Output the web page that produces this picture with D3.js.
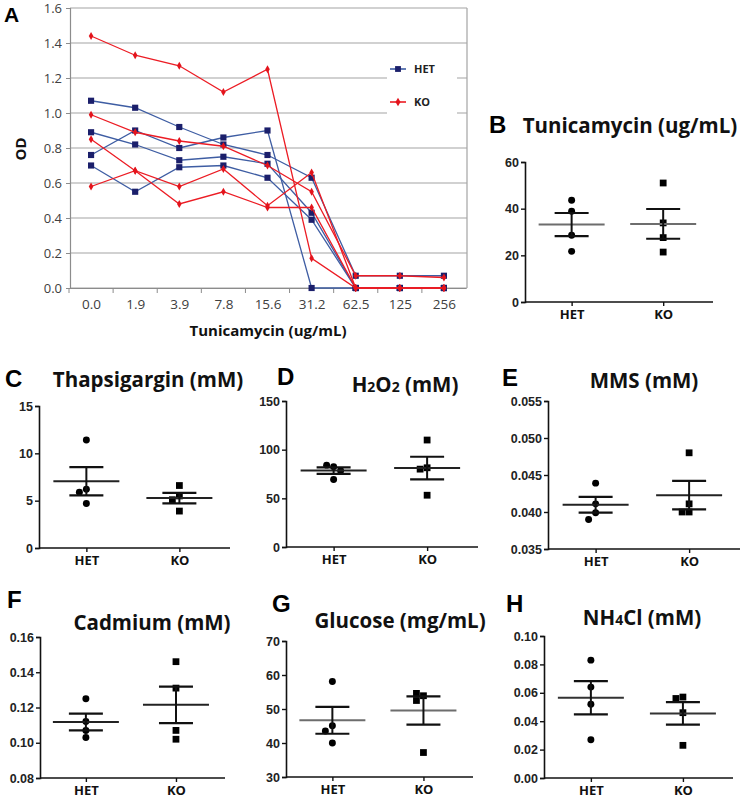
<!DOCTYPE html>
<html>
<head>
<meta charset="utf-8">
<script src="https://cdn.jsdelivr.net/npm/d3@7"></script>
<style>
  body { margin: 0; background: #fff; }
  svg { display: block; font-family: "Open Sans", sans-serif; }
</style>
</head>
<body>
<svg id="fig" width="745" height="799"></svg>
<script>

// ---------- panel A : OD against tunicamycin dose ----------
var doses  = ["0.0", "1.9", "3.9", "7.8", "15.6", "31.2", "62.5", "125", "256"];
var odTicks = [0, 0.2, 0.4, 0.6, 0.8, 1.0, 1.2, 1.4, 1.6];

var het1 = [1.07, 1.03, 0.92, 0.82, 0.76, 0.63, 0.07, 0.07, 0.07];
var het2 = [0.76, 0.90, 0.80, 0.86, 0.90, 0.00, 0.00, 0.00, 0.00];
var het3 = [0.89, 0.82, 0.73, 0.75, 0.71, 0.43, 0.00, 0.00, 0.00];
var het4 = [0.70, 0.55, 0.69, 0.70, 0.63, 0.39, 0.00, 0.00, 0.00];

var ko1 = [1.44, 1.33, 1.27, 1.12, 1.25, 0.17, 0.00, 0.00, 0.00];
var ko2 = [0.99, 0.89, 0.84, 0.81, 0.70, 0.55, 0.07, 0.07, 0.06];
var ko3 = [0.85, 0.67, 0.48, 0.55, 0.46, 0.46, 0.00, 0.00, 0.00];
var ko4 = [0.58, 0.67, 0.58, 0.68, 0.47, 0.66, 0.00, 0.00, 0.00];

// ---------- panels B-H : one value per clone ----------
var groups = ["HET", "KO"];

var tunHet  = [43.6, 38.9, 28.6, 21.7],         tunKo  = [51.0, 33.9, 27.6, 21.4];
var tunTicks = [0, 20, 40, 60];
var thapHet = [11.4, 6.2, 5.9, 4.7],            thapKo = [6.6, 5.5, 5.1, 3.9];
var thapTicks = [0, 5, 10, 15];
var h2o2Het = [82.4, 84.1, 78.3, 69.3],         h2o2Ko = [109.9, 81.4, 80.0, 53.2];
var h2o2Ticks = [0, 50, 100, 150];
var mmsHet  = [0.0439, 0.0411, 0.0399, 0.0390], mmsKo  = [0.0480, 0.0411, 0.0400, 0.0400];
var mmsTicks = [0.035, 0.040, 0.045, 0.050, 0.055];
var cdHet   = [0.125, 0.112, 0.107, 0.103],     cdKo   = [0.146, 0.131, 0.107, 0.102];
var cdTicks = [0.08, 0.10, 0.12, 0.14, 0.16];
var gluHet  = [58.1, 45.1, 43.5, 40.0],         gluKo  = [53.9, 54.6, 52.5, 37.2];
var gluTicks = [30, 40, 50, 60, 70];
var nhHet   = [0.083, 0.064, 0.052, 0.027],     nhKo   = [0.057, 0.056, 0.046, 0.023];
var nhTicks = [0, 0.02, 0.04, 0.06, 0.08, 0.10];


var svg = d3.select("#fig");
svg.append("rect").attr("width", 745).attr("height", 799).attr("fill", "#fff");

// ================= panel A =================
var blueLine = "#3e5da3", blueMark = "#1b1f6b";
var redLine  = "#ec1c24", redMark  = "#e3141c";

var ax = d3.scalePoint().domain(doses).range([69, 466]).padding(0.5);
var ay = d3.scaleLinear().domain([0, 1.6]).range([288, 8]);

var gA = svg.append("g");

// gridlines
gA.selectAll("line.grid").data(odTicks).join("line")
	.attr("class", "grid")
	.attr("x1", 70).attr("x2", 467)
	.attr("y1", d => ay(d)).attr("y2", d => ay(d))
	.attr("stroke", "#a3a3a3").attr("stroke-width", 1.2);

// right border of plot area
gA.append("line")
	.attr("x1", 467).attr("x2", 467).attr("y1", ay(1.6)).attr("y2", ay(0))
	.attr("stroke", "#a3a3a3").attr("stroke-width", 1.2);

// y axis
var yAxA = gA.append("g").attr("transform", "translate(70,0)")
	.call(d3.axisLeft(ay).tickValues(odTicks).tickSize(4).tickPadding(4).tickFormat(d3.format(".1f")));
yAxA.select(".domain").attr("stroke", "#8c8c8c").attr("stroke-width", 1.2);
yAxA.selectAll(".tick line").attr("stroke", "#8c8c8c");
yAxA.selectAll("text").attr("font-family", "Open Sans").attr("font-size", 13).attr("fill", "#404040");

// x axis, ticks sit between categories
var xAxA = gA.append("g").attr("transform", "translate(0,288)")
	.call(d3.axisBottom(ax).tickSize(0).tickPadding(11));
xAxA.select(".domain").attr("stroke", "#8c8c8c").attr("stroke-width", 1.2);
xAxA.selectAll("text").attr("font-family", "Open Sans").attr("font-size", 13.5).attr("fill", "#404040");
gA.selectAll("line.xtick").data(doses).join("line")
	.attr("class", "xtick")
	.attr("x1", d => ax(d) - ax.step() / 2).attr("x2", d => ax(d) - ax.step() / 2)
	.attr("y1", 288).attr("y2", 293)
	.attr("stroke", "#8c8c8c");

var line = d3.line().x((d, i) => ax(doses[i])).y(d => ay(d));

function drawSeries(arr, lc, mc, shape) {
	arr.forEach(function(s) {
		gA.append("path").datum(s)
			.attr("d", line).attr("fill", "none")
			.attr("stroke", lc).attr("stroke-width", 1.3);
	});
	arr.forEach(function(s) {
		gA.selectAll(null).data(s).join("path")
			.attr("transform", (d, i) => "translate(" + ax(doses[i]) + "," + ay(d) + ")")
			.attr("d", d3.symbol().type(shape).size(shape === d3.symbolSquare ? 38 : 18))
			.attr("fill", mc);
	});
}
drawSeries([het1, het2, het3, het4], blueLine, blueMark, d3.symbolSquare);
drawSeries([ko1, ko2, ko3, ko4], redLine, redMark, d3.symbolDiamond);

// legend (white box knocks out the gridlines)
gA.append("rect").attr("x", 387).attr("y", 54).attr("width", 70).attr("height", 66).attr("fill", "#fff");
[["HET", blueLine, blueMark, d3.symbolSquare, 69], ["KO", redLine, redMark, d3.symbolDiamond, 102]].forEach(function(l) {
	gA.append("line").attr("x1", 390).attr("x2", 406).attr("y1", l[4]).attr("y2", l[4])
		.attr("stroke", l[1]).attr("stroke-width", 1.6);
	gA.append("path").attr("transform", "translate(398," + l[4] + ")")
		.attr("d", d3.symbol().type(l[3]).size(l[3] === d3.symbolSquare ? 34 : 22)).attr("fill", l[2]);
	gA.append("text").attr("x", 414).attr("y", l[4] + 4)
		.attr("font-family", "Open Sans").attr("font-weight", 700).attr("font-size", 11)
		.attr("fill", "#222").text(l[0]);
});

// titles
gA.append("text").attr("x", 268).attr("y", 336).attr("text-anchor", "middle")
	.attr("font-family", "Open Sans").attr("font-weight", 700).attr("font-size", 15)
	.attr("fill", "#111").text("Tunicamycin (ug/mL)");
gA.append("text").attr("transform", "translate(26,149) rotate(-90)").attr("text-anchor", "middle")
	.attr("font-family", "Open Sans").attr("font-weight", 700).attr("font-size", 15)
	.attr("fill", "#111").text("OD");
gA.append("text").attr("x", 4).attr("y", 22)
	.attr("font-family", "Liberation Sans").attr("font-weight", 700).attr("font-size", 21)
	.attr("fill", "#000").text("A");

// ================= panels B-H =================
var panels = [
	{ tag: "B", title: [["Tunicamycin (ug/mL)"]], het: tunHet, ko: tunKo, ticks: tunTicks, fmt: "d",
	  x0: 525, x1: 713, yT: 162, yB: 302, lx: 489, ly: 133, tx: 630, ty: 133, meanCol: "#6d6d6d" },
	{ tag: "C", title: [["Thapsigargin (mM)"]], het: thapHet, ko: thapKo, ticks: thapTicks, fmt: "d",
	  x0: 39, x1: 230, yT: 406, yB: 548, lx: 5, ly: 387, tx: 148, ty: 387, meanCol: "#222" },
	{ tag: "D", title: [["H"], ["2", 1], ["O"], ["2", 1], [" (mM)"]], het: h2o2Het, ko: h2o2Ko, ticks: h2o2Ticks, fmt: "d",
	  x0: 286, x1: 478, yT: 401, yB: 547, lx: 277, ly: 385, tx: 405, ty: 392, meanCol: "#222" },
	{ tag: "E", title: [["MMS (mM)"]], het: mmsHet, ko: mmsKo, ticks: mmsTicks, fmt: ".3f",
	  x0: 548, x1: 740, yT: 401, yB: 549, lx: 502, ly: 386, tx: 644, ty: 388, meanCol: "#222" },
	{ tag: "F", title: [["Cadmium (mM)"]], het: cdHet, ko: cdKo, ticks: cdTicks, fmt: ".2f",
	  x0: 40, x1: 225, yT: 637, yB: 778, lx: 7, ly: 608, tx: 152, ty: 630, meanCol: "#222" },
	{ tag: "G", title: [["Glucose (mg/mL)"]], het: gluHet, ko: gluKo, ticks: gluTicks, fmt: "d",
	  x0: 286, x1: 473, yT: 641, yB: 777, lx: 272, ly: 612, tx: 400, ty: 628, meanCol: "#6d6d6d" },
	{ tag: "H", title: [["NH"], ["4", 1], ["Cl (mM)"]], het: nhHet, ko: nhKo, ticks: nhTicks, fmt: ".2f",
	  x0: 544, x1: 733, yT: 636, yB: 778, lx: 506, ly: 612, tx: 642, ty: 625, meanCol: "#333" }
];

panels.forEach(function(p) {
	var g = svg.append("g");
	var w = p.x1 - p.x0;
	var x = d3.scalePoint().domain(groups).range([p.x0 + 0.248 * w, p.x0 + 0.735 * w]);
	var y = d3.scaleLinear().domain(d3.extent(p.ticks)).range([p.yB, p.yT]);

	// panel letter + title
	g.append("text").attr("x", p.lx).attr("y", p.ly)
		.attr("font-family", "Liberation Sans").attr("font-weight", 700).attr("font-size", 24)
		.attr("fill", "#000").text(p.tag);
	var t = g.append("text").attr("x", p.tx).attr("y", p.ty).attr("text-anchor", "middle")
		.attr("font-family", "Open Sans").attr("font-weight", 700).attr("font-size", 20.5).attr("fill", "#111");
	p.title.forEach(function(part) {
		t.append("tspan").attr("font-size", part[1] ? 14 : 20.5).text(part[0]);
	});

	// axes
	var ya = g.append("g").attr("transform", "translate(" + p.x0 + ",0)")
		.call(d3.axisLeft(y).tickValues(p.ticks).tickSize(4).tickPadding(2).tickFormat(d3.format(p.fmt)));
	var xa = g.append("g").attr("transform", "translate(0," + p.yB + ")")
		.call(d3.axisBottom(x).tickSize(4).tickPadding(4));
	xa.select(".domain").attr("d", "M" + p.x0 + ",0H" + p.x1);
	[ya, xa].forEach(function(a) {
		a.select(".domain").attr("stroke", "#111").attr("stroke-width", 1.6);
		a.selectAll(".tick line").attr("stroke", "#111").attr("stroke-width", 1.4);
	});
	ya.selectAll("text").attr("font-family", "Liberation Sans").attr("font-weight", 700)
		.attr("font-size", 12.5).attr("fill", "#222");
	xa.selectAll("text").attr("font-family", "Open Sans").attr("font-weight", 700)
		.attr("font-size", 13).attr("fill", "#111");

	[["HET", p.het], ["KO", p.ko]].forEach(function(gr) {
		var cx = x(gr[0]), vals = gr[1];
		var m = d3.mean(vals), sem = d3.deviation(vals) / Math.sqrt(vals.length);

		// points, nudged sideways when they would overlap
		var placed = [];
		vals.forEach(function(v) {
			var py = y(v), off = 0;
			var tries = [0, -7, 7, -14, 14];
			for (var k = 0; k < tries.length; k++) {
				var clash = placed.some(q => Math.hypot(q[0] - (cx + tries[k]), q[1] - py) < 7);
				if (!clash) { off = tries[k]; break; }
			}
			placed.push([cx + off, py]);
		});
		g.selectAll(null).data(placed).join("path")
			.attr("transform", d => "translate(" + d[0] + "," + d[1] + ")")
			.attr("d", d3.symbol().type(gr[0] === "HET" ? d3.symbolCircle : d3.symbolSquare)
				.size(gr[0] === "HET" ? 38 : 46))
			.attr("fill", "#000");

		// mean and SEM
		g.append("line").attr("x1", cx - 33).attr("x2", cx + 33).attr("y1", y(m)).attr("y2", y(m))
			.attr("stroke", p.meanCol).attr("stroke-width", 2);
		g.append("line").attr("x1", cx).attr("x2", cx).attr("y1", y(m + sem)).attr("y2", y(m - sem))
			.attr("stroke", "#111").attr("stroke-width", 2);
		[m + sem, m - sem].forEach(function(v) {
			g.append("line").attr("x1", cx - 17).attr("x2", cx + 17).attr("y1", y(v)).attr("y2", y(v))
				.attr("stroke", "#111").attr("stroke-width", 2.2);
		});
	});
});

</script>
</body>
</html>
